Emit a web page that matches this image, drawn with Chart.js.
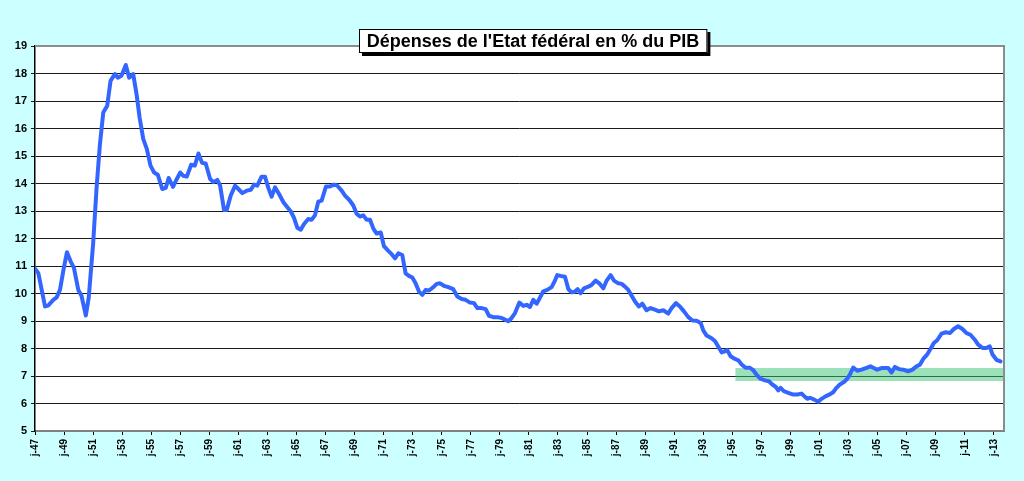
<!DOCTYPE html>
<html>
<head>
<meta charset="utf-8">
<script src="https://cdn.jsdelivr.net/npm/chart.js@4"></script>
<style>
  html,body{margin:0;padding:0;background:#ccffff;}
  canvas{display:block;}
</style>
</head>
<body>
<canvas id="chart" width="1024" height="481"></canvas>
<script>
/* ================= Data ================= */
const chartTitle = "Dépenses de l'Etat fédéral en % du PIB";

const years = [
  1947.0,1947.23,1947.69,1947.9,1948.26,1948.49,1948.72,1948.95,1949.2,1949.45,1949.68,1949.98,
  1950.2,1950.5,1950.7,1951.0,1951.24,1951.47,1951.7,1951.97,1952.2,1952.5,1952.7,1952.95,
  1953.25,1953.48,1953.76,1953.99,1954.2,1954.45,1954.7,1954.95,1955.2,1955.45,1955.76,1956.0,
  1956.2,1956.5,1956.7,1957.0,1957.2,1957.45,1957.75,1958.0,1958.25,1958.5,1958.75,1959.05,
  1959.28,1959.55,1959.74,1960.01,1960.2,1960.47,1960.77,1961.0,1961.27,1961.57,1961.85,1962.08,
  1962.3,1962.6,1962.83,1963.06,1963.29,1963.52,1963.8,1964.1,1964.37,1964.6,1964.83,1965.06,
  1965.29,1965.52,1965.81,1966.04,1966.27,1966.5,1966.73,1967.03,1967.3,1967.58,1967.81,1968.11,
  1968.34,1968.64,1968.91,1969.14,1969.37,1969.6,1969.83,1970.06,1970.29,1970.52,1970.8,1971.02,
  1971.32,1971.55,1971.78,1972.01,1972.28,1972.51,1972.74,1972.97,1973.2,1973.43,1973.66,1973.89,
  1974.12,1974.42,1974.65,1974.88,1975.15,1975.45,1975.79,1976.07,1976.37,1976.64,1976.94,1977.22,
  1977.45,1977.74,1978.02,1978.25,1978.55,1978.82,1979.12,1979.35,1979.58,1979.81,1980.04,1980.34,
  1980.61,1980.84,1981.07,1981.3,1981.53,1981.76,1981.99,1982.26,1982.56,1982.79,1982.95,1983.18,
  1983.48,1983.71,1983.94,1984.17,1984.35,1984.56,1984.79,1985.09,1985.31,1985.59,1985.84,1986.12,
  1986.35,1986.62,1986.85,1987.15,1987.38,1987.61,1987.84,1988.07,1988.3,1988.57,1988.8,1989.1,
  1989.37,1989.67,1989.95,1990.25,1990.59,1990.82,1991.12,1991.39,1991.67,1991.97,1992.26,1992.54,
  1992.82,1993.0,1993.23,1993.57,1993.8,1994.03,1994.26,1994.49,1994.65,1994.88,1995.18,1995.41,
  1995.64,1995.91,1996.21,1996.44,1996.71,1996.94,1997.24,1997.52,1997.75,1997.98,1998.16,1998.32,
  1998.55,1998.85,1999.15,1999.47,1999.77,2000.0,2000.16,2000.34,2000.61,2000.91,2001.14,2001.44,
  2001.71,2001.94,2002.17,2002.4,2002.68,2002.91,2003.09,2003.32,2003.6,2003.89,2004.19,2004.51,
  2004.74,2004.97,2005.27,2005.57,2005.73,2005.96,2006.19,2006.48,2006.76,2007.1,2007.4,2007.68,
  2007.91,2008.14,2008.41,2008.64,2008.87,2009.1,2009.4,2009.7,2009.97,2010.25,2010.54,2010.84,
  2011.12,2011.39,2011.69,2011.92,2012.22,2012.49,2012.72,2012.91,2013.18,2013.46
];

const spending = [
  10.9,10.74,9.53,9.56,9.77,9.86,10.13,10.83,11.5,11.17,10.93,10.13,
  9.92,9.2,9.86,11.8,13.86,15.43,16.58,16.83,17.73,17.98,17.85,17.92,
  18.31,17.85,17.98,17.25,16.4,15.62,15.25,14.65,14.4,14.32,13.8,13.84,
  14.2,13.88,14.1,14.4,14.28,14.25,14.68,14.65,15.09,14.75,14.73,14.17,
  14.05,14.13,13.93,13.04,13.04,13.56,13.92,13.8,13.65,13.74,13.77,13.96,
  13.92,14.25,14.25,13.84,13.52,13.86,13.62,13.32,13.14,12.99,12.75,12.39,
  12.32,12.53,12.71,12.68,12.84,13.34,13.38,13.89,13.89,13.96,13.92,13.74,
  13.56,13.4,13.2,12.9,12.8,12.84,12.68,12.68,12.36,12.18,12.22,11.72,
  11.55,11.43,11.28,11.46,11.4,10.73,10.64,10.58,10.37,10.07,9.95,10.13,
  10.11,10.23,10.35,10.37,10.28,10.23,10.16,9.89,9.8,9.77,9.67,9.65,
  9.47,9.47,9.43,9.19,9.14,9.14,9.11,9.05,8.99,9.11,9.29,9.67,
  9.55,9.59,9.51,9.77,9.63,9.85,10.08,10.13,10.23,10.47,10.67,10.64,
  10.61,10.16,10.04,10.07,10.16,10.01,10.19,10.25,10.31,10.47,10.37,10.19,
  10.47,10.67,10.47,10.37,10.35,10.25,10.13,9.92,9.71,9.53,9.63,9.39,
  9.47,9.41,9.35,9.39,9.27,9.47,9.65,9.53,9.35,9.14,9.02,9.01,
  8.93,8.66,8.47,8.37,8.27,8.07,7.86,7.9,7.94,7.72,7.62,7.57,
  7.42,7.3,7.3,7.21,7.02,6.9,6.84,6.81,6.69,6.61,6.48,6.57,
  6.45,6.39,6.33,6.33,6.36,6.24,6.17,6.21,6.15,6.06,6.17,6.27,
  6.33,6.41,6.57,6.69,6.78,6.9,7.05,7.31,7.19,7.23,7.29,7.35,
  7.29,7.23,7.29,7.29,7.29,7.13,7.33,7.25,7.23,7.17,7.23,7.35,
  7.41,7.62,7.78,7.98,8.2,8.3,8.54,8.59,8.56,8.71,8.81,8.71,
  8.56,8.5,8.32,8.14,8.02,8.02,8.08,7.78,7.59,7.53
];

// green target band (years and % of GDP)
const bandYears = [1995.2, 2013.7];
const bandLow = 6.82;
const bandHigh = 7.29;

// x tick positions (labelled j-47, j-49 ...)
const tickYears = [
  1947,1949,1951,1953,1955,1957,1959,1961,1963,1965,1967,1969,1971,1973,1975,1977,1979,
  1981,1983,1985,1987,1989,1991,1993,1995,1997,1999,2001,2003,2005,2007,2009,2011,2013
];

/* ================= Plugins ================= */
const plotBg = {
  id: 'plotBg',
  beforeDraw(chart){
    const {ctx, chartArea:a} = chart;
    ctx.save();
    ctx.fillStyle = '#ccffff';
    ctx.fillRect(0,0,chart.width,chart.height);
    ctx.fillStyle = '#ffffff';
    ctx.fillRect(a.left,a.top,a.right-a.left,a.bottom-a.top);
    ctx.restore();
  },
  afterDraw(chart){
    const {ctx, chartArea:a} = chart;
    ctx.save();
    ctx.strokeStyle = '#8c8c8c';
    ctx.lineWidth = 2;
    ctx.beginPath();
    ctx.moveTo(a.left, a.top);
    ctx.lineTo(a.right, a.top);
    ctx.lineTo(a.right, a.bottom);
    ctx.stroke();
    ctx.restore();
  }
};

const titleBox = {
  id: 'titleBox',
  afterDraw(chart){
    const ctx = chart.ctx;
    ctx.save();
    ctx.font = 'bold 18px "Liberation Sans", Arial, sans-serif';
    const w = ctx.measureText(chartTitle).width;
    const cx = 533, top = 29, h = 24;
    const bw = w + 16;
    const left = Math.round(cx - bw/2);
    ctx.fillStyle = '#000';
    ctx.fillRect(left+3, top+3, bw, h);
    ctx.fillStyle = '#fff';
    ctx.fillRect(left, top, bw, h);
    ctx.strokeStyle = '#000';
    ctx.lineWidth = 1;
    ctx.strokeRect(left+0.5, top+0.5, bw-1, h-1);
    ctx.fillStyle = '#000';
    ctx.textAlign = 'center';
    ctx.textBaseline = 'middle';
    ctx.fillText(chartTitle, cx, top + h/2 + 1);
    ctx.restore();
  }
};

/* ================= Chart ================= */
const ctx = document.getElementById('chart');

new Chart(ctx, {
  type: 'line',
  data: {
    datasets: [
      {
        label: 'Dépenses',
        data: years.map((y,i)=>({x:y, y:spending[i]})),
        borderColor: '#3366ff',
        borderWidth: 4,
        pointRadius: 0,
        tension: 0,
        borderJoinStyle: 'round',
        borderCapStyle: 'round',
        order: 0
      },
      {
        label: 'Zone',
        data: bandYears.map(y=>({x:y, y:bandHigh})),
        borderWidth: 0,
        borderColor: 'rgba(0,0,0,0)',
        backgroundColor: 'rgba(60,195,120,0.5)',
        fill: {value: bandLow},
        pointRadius: 0,
        order: 1
      }
    ]
  },
  options: {
    responsive: false,
    animation: false,
    devicePixelRatio: 1,
    layout: {padding: {top: 46, right: 20, left: 0, bottom: 0}},
    plugins: {
      legend: {display: false},
      title: {display: false},
      tooltip: {enabled: false}
    },
    scales: {
      x: {
        type: 'linear',
        min: 1947,
        max: 2013.7,
        afterBuildTicks: s => { s.ticks = tickYears.map(v=>({value:v})); },
        afterFit: s => { s.height = 50; },
        ticks: {
          autoSkip: false,
          minRotation: 90,
          maxRotation: 90,
          padding: 4,
          color: '#000',
          font: {family: '"Liberation Sans", Arial, sans-serif', size: 10, weight: 'bold'},
          callback: v => 'j-' + String(v).slice(2)
        },
        grid: {drawOnChartArea: false, drawTicks: true, tickLength: 4, color: '#000'},
        border: {color: '#808080', width: 2}
      },
      y: {
        min: 5,
        max: 19,
        afterFit: s => { s.width = 35; },
        ticks: {
          stepSize: 1,
          padding: 4,
          color: '#000',
          font: {family: '"Liberation Sans", Arial, sans-serif', size: 11, weight: 'bold'}
        },
        grid: {color: '#1a1a1a', lineWidth: 1, tickLength: 4},
        border: {color: '#000', width: 1.5}
      }
    }
  },
  plugins: [plotBg, titleBox]
});
</script>
</body>
</html>
